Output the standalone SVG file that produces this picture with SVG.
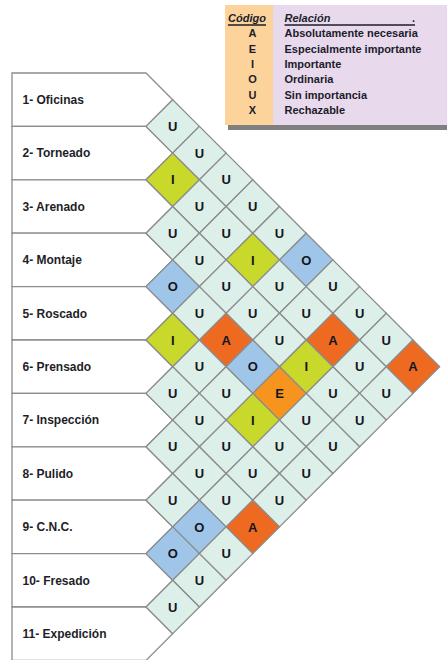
<svg xmlns="http://www.w3.org/2000/svg" xmlns:xlink="http://www.w3.org/1999/xlink" width="447" height="660" viewBox="0 0 447 660">
<style>
.box{fill:#ffffff;stroke:#8c8c8c;stroke-width:1.3}
.lbl{font-family:"Liberation Sans",Arial,sans-serif;font-weight:bold;font-size:12px;fill:#1e1e28}
.cell{stroke:#8c8c8c;stroke-width:1.3}
.U{fill:#dcefe9}.I{fill:#c8d92b}.O{fill:#9fc6e8}.A{fill:#ef6a21}.E{fill:#f7941e}
.ct{font-family:"Liberation Sans",Arial,sans-serif;font-weight:bold;font-size:13px;fill:#15151f;text-anchor:middle}
.lg{font-family:"Liberation Sans",Arial,sans-serif;font-weight:bold;font-size:11px;fill:#1c1c2a}
.lc{text-anchor:middle}
.it{font-style:italic}
</style>
<defs>
<path id="dm" d="M0,-26.7 L26.7,0 L0,26.7 L-26.7,0 Z"/>
</defs>
<rect width="447" height="660" fill="#ffffff"/>

<g id="legend">
<rect x="228" y="124" width="219" height="6" fill="#808080"/>
<rect x="225" y="5" width="48" height="120" fill="#fdd39c"/>
<rect x="273" y="5" width="174" height="120" fill="#e8d9ed"/>
<text class="lg it" x="228" y="22">Código</text>
<line x1="228" y1="25" x2="266" y2="25" stroke="#1c1c2a" stroke-width="1.4"/>
<text class="lg it" x="284.5" y="22">Relación</text>
<line x1="284.5" y1="25" x2="415" y2="25" stroke="#1c1c2a" stroke-width="1.6"/>
<text class="lg" x="412" y="22">.</text>
<text class="lg lc" x="252.5" y="37.3">A</text>
<text class="lg lc" x="252.5" y="52.6">E</text>
<text class="lg lc" x="252.5" y="68">I</text>
<text class="lg lc" x="252.5" y="83.3">O</text>
<text class="lg lc" x="252.5" y="98.6">U</text>
<text class="lg lc" x="252.5" y="114">X</text>
<text class="lg" x="284.5" y="37.3">Absolutamente necesaria</text>
<text class="lg" x="284.5" y="52.6">Especialmente importante</text>
<text class="lg" x="284.5" y="68">Importante</text>
<text class="lg" x="284.5" y="83.3">Ordinaria</text>
<text class="lg" x="284.5" y="98.6">Sin importancia</text>
<text class="lg" x="284.5" y="114">Rechazable</text>
</g>

<g id="dept1"><path class="box" d="M12,73 H146 L172.7,99.7 L146,126.4 H12 Z"/><text class="lbl" x="22.5" y="104">1- Oficinas</text></g>
<g id="dept2"><path class="box" d="M12,126.4 H146 L172.7,153.1 L146,179.8 H12 Z"/><text class="lbl" x="22.5" y="157.4">2- Torneado</text></g>
<g id="dept3"><path class="box" d="M12,179.8 H146 L172.7,206.5 L146,233.2 H12 Z"/><text class="lbl" x="22.5" y="210.8">3- Arenado</text></g>
<g id="dept4"><path class="box" d="M12,233.2 H146 L172.7,259.9 L146,286.6 H12 Z"/><text class="lbl" x="22.5" y="264.2">4- Montaje</text></g>
<g id="dept5"><path class="box" d="M12,286.6 H146 L172.7,313.3 L146,340 H12 Z"/><text class="lbl" x="22.5" y="317.6">5- Roscado</text></g>
<g id="dept6"><path class="box" d="M12,340 H146 L172.7,366.7 L146,393.4 H12 Z"/><text class="lbl" x="22.5" y="371">6- Prensado</text></g>
<g id="dept7"><path class="box" d="M12,393.4 H146 L172.7,420.1 L146,446.8 H12 Z"/><text class="lbl" x="22.5" y="424.4">7- Inspección</text></g>
<g id="dept8"><path class="box" d="M12,446.8 H146 L172.7,473.5 L146,500.2 H12 Z"/><text class="lbl" x="22.5" y="477.8">8- Pulido</text></g>
<g id="dept9"><path class="box" d="M12,500.2 H146 L172.7,526.9 L146,553.6 H12 Z"/><text class="lbl" x="22.5" y="531.2">9- C.N.C.</text></g>
<g id="dept10"><path class="box" d="M12,553.6 H146 L172.7,580.3 L146,607 H12 Z"/><text class="lbl" x="22.5" y="584.6">10- Fresado</text></g>
<g id="dept11"><path class="box" d="M12,607 H146 L172.7,633.7 L146,660.4 H12 Z"/><text class="lbl" x="22.5" y="638">11- Expedición</text></g>

<g id="connectors"></g>

<g id="matrix">
<g id="c1-2"><use xlink:href="#dm" href="#dm" class="cell U" x="172.7" y="126.4"/><text class="ct" x="172.7" y="131">U</text></g>
<g id="c1-3"><use xlink:href="#dm" href="#dm" class="cell U" x="199.4" y="153.1"/><text class="ct" x="199.4" y="157.7">U</text></g>
<g id="c2-3"><use xlink:href="#dm" href="#dm" class="cell I" x="172.7" y="179.8"/><text class="ct" x="172.7" y="184.4">I</text></g>
<g id="c1-4"><use xlink:href="#dm" href="#dm" class="cell U" x="226.1" y="179.8"/><text class="ct" x="226.1" y="184.4">U</text></g>
<g id="c2-4"><use xlink:href="#dm" href="#dm" class="cell U" x="199.4" y="206.5"/><text class="ct" x="199.4" y="211.1">U</text></g>
<g id="c1-5"><use xlink:href="#dm" href="#dm" class="cell U" x="252.8" y="206.5"/><text class="ct" x="252.8" y="211.1">U</text></g>
<g id="c3-4"><use xlink:href="#dm" href="#dm" class="cell U" x="172.7" y="233.2"/><text class="ct" x="172.7" y="237.8">U</text></g>
<g id="c2-5"><use xlink:href="#dm" href="#dm" class="cell U" x="226.1" y="233.2"/><text class="ct" x="226.1" y="237.8">U</text></g>
<g id="c1-6"><use xlink:href="#dm" href="#dm" class="cell U" x="279.5" y="233.2"/><text class="ct" x="279.5" y="237.8">U</text></g>
<g id="c3-5"><use xlink:href="#dm" href="#dm" class="cell U" x="199.4" y="259.9"/><text class="ct" x="199.4" y="264.5">U</text></g>
<g id="c2-6"><use xlink:href="#dm" href="#dm" class="cell I" x="252.8" y="259.9"/><text class="ct" x="252.8" y="264.5">I</text></g>
<g id="c1-7"><use xlink:href="#dm" href="#dm" class="cell O" x="306.2" y="259.9"/><text class="ct" x="306.2" y="264.5">O</text></g>
<g id="c4-5"><use xlink:href="#dm" href="#dm" class="cell O" x="172.7" y="286.6"/><text class="ct" x="172.7" y="291.2">O</text></g>
<g id="c3-6"><use xlink:href="#dm" href="#dm" class="cell U" x="226.1" y="286.6"/><text class="ct" x="226.1" y="291.2">U</text></g>
<g id="c2-7"><use xlink:href="#dm" href="#dm" class="cell U" x="279.5" y="286.6"/><text class="ct" x="279.5" y="291.2">U</text></g>
<g id="c1-8"><use xlink:href="#dm" href="#dm" class="cell U" x="332.9" y="286.6"/><text class="ct" x="332.9" y="291.2">U</text></g>
<g id="c4-6"><use xlink:href="#dm" href="#dm" class="cell U" x="199.4" y="313.3"/><text class="ct" x="199.4" y="317.9">U</text></g>
<g id="c3-7"><use xlink:href="#dm" href="#dm" class="cell U" x="252.8" y="313.3"/><text class="ct" x="252.8" y="317.9">U</text></g>
<g id="c2-8"><use xlink:href="#dm" href="#dm" class="cell U" x="306.2" y="313.3"/><text class="ct" x="306.2" y="317.9">U</text></g>
<g id="c1-9"><use xlink:href="#dm" href="#dm" class="cell U" x="359.6" y="313.3"/><text class="ct" x="359.6" y="317.9">U</text></g>
<g id="c5-6"><use xlink:href="#dm" href="#dm" class="cell I" x="172.7" y="340"/><text class="ct" x="172.7" y="344.6">I</text></g>
<g id="c4-7"><use xlink:href="#dm" href="#dm" class="cell A" x="226.1" y="340"/><text class="ct" x="226.1" y="344.6">A</text></g>
<g id="c3-8"><use xlink:href="#dm" href="#dm" class="cell U" x="279.5" y="340"/><text class="ct" x="279.5" y="344.6">U</text></g>
<g id="c2-9"><use xlink:href="#dm" href="#dm" class="cell A" x="332.9" y="340"/><text class="ct" x="332.9" y="344.6">A</text></g>
<g id="c1-10"><use xlink:href="#dm" href="#dm" class="cell U" x="386.3" y="340"/><text class="ct" x="386.3" y="344.6">U</text></g>
<g id="c5-7"><use xlink:href="#dm" href="#dm" class="cell U" x="199.4" y="366.7"/><text class="ct" x="199.4" y="371.3">U</text></g>
<g id="c4-8"><use xlink:href="#dm" href="#dm" class="cell O" x="252.8" y="366.7"/><text class="ct" x="252.8" y="371.3">O</text></g>
<g id="c3-9"><use xlink:href="#dm" href="#dm" class="cell I" x="306.2" y="366.7"/><text class="ct" x="306.2" y="371.3">I</text></g>
<g id="c2-10"><use xlink:href="#dm" href="#dm" class="cell U" x="359.6" y="366.7"/><text class="ct" x="359.6" y="371.3">U</text></g>
<g id="c1-11"><use xlink:href="#dm" href="#dm" class="cell A" x="413" y="366.7"/><text class="ct" x="413" y="371.3">A</text></g>
<g id="c6-7"><use xlink:href="#dm" href="#dm" class="cell U" x="172.7" y="393.4"/><text class="ct" x="172.7" y="398">U</text></g>
<g id="c5-8"><use xlink:href="#dm" href="#dm" class="cell U" x="226.1" y="393.4"/><text class="ct" x="226.1" y="398">U</text></g>
<g id="c4-9"><use xlink:href="#dm" href="#dm" class="cell E" x="279.5" y="393.4"/><text class="ct" x="279.5" y="398">E</text></g>
<g id="c3-10"><use xlink:href="#dm" href="#dm" class="cell U" x="332.9" y="393.4"/><text class="ct" x="332.9" y="398">U</text></g>
<g id="c2-11"><use xlink:href="#dm" href="#dm" class="cell U" x="386.3" y="393.4"/><text class="ct" x="386.3" y="398">U</text></g>
<g id="c6-8"><use xlink:href="#dm" href="#dm" class="cell U" x="199.4" y="420.1"/><text class="ct" x="199.4" y="424.7">U</text></g>
<g id="c5-9"><use xlink:href="#dm" href="#dm" class="cell I" x="252.8" y="420.1"/><text class="ct" x="252.8" y="424.7">I</text></g>
<g id="c4-10"><use xlink:href="#dm" href="#dm" class="cell U" x="306.2" y="420.1"/><text class="ct" x="306.2" y="424.7">U</text></g>
<g id="c3-11"><use xlink:href="#dm" href="#dm" class="cell U" x="359.6" y="420.1"/><text class="ct" x="359.6" y="424.7">U</text></g>
<g id="c7-8"><use xlink:href="#dm" href="#dm" class="cell U" x="172.7" y="446.8"/><text class="ct" x="172.7" y="451.4">U</text></g>
<g id="c6-9"><use xlink:href="#dm" href="#dm" class="cell U" x="226.1" y="446.8"/><text class="ct" x="226.1" y="451.4">U</text></g>
<g id="c5-10"><use xlink:href="#dm" href="#dm" class="cell U" x="279.5" y="446.8"/><text class="ct" x="279.5" y="451.4">U</text></g>
<g id="c4-11"><use xlink:href="#dm" href="#dm" class="cell U" x="332.9" y="446.8"/><text class="ct" x="332.9" y="451.4">U</text></g>
<g id="c7-9"><use xlink:href="#dm" href="#dm" class="cell U" x="199.4" y="473.5"/><text class="ct" x="199.4" y="478.1">U</text></g>
<g id="c6-10"><use xlink:href="#dm" href="#dm" class="cell U" x="252.8" y="473.5"/><text class="ct" x="252.8" y="478.1">U</text></g>
<g id="c5-11"><use xlink:href="#dm" href="#dm" class="cell U" x="306.2" y="473.5"/><text class="ct" x="306.2" y="478.1">U</text></g>
<g id="c8-9"><use xlink:href="#dm" href="#dm" class="cell U" x="172.7" y="500.2"/><text class="ct" x="172.7" y="504.8">U</text></g>
<g id="c7-10"><use xlink:href="#dm" href="#dm" class="cell U" x="226.1" y="500.2"/><text class="ct" x="226.1" y="504.8">U</text></g>
<g id="c6-11"><use xlink:href="#dm" href="#dm" class="cell U" x="279.5" y="500.2"/><text class="ct" x="279.5" y="504.8">U</text></g>
<g id="c8-10"><use xlink:href="#dm" href="#dm" class="cell O" x="199.4" y="526.9"/><text class="ct" x="199.4" y="531.5">O</text></g>
<g id="c7-11"><use xlink:href="#dm" href="#dm" class="cell A" x="252.8" y="526.9"/><text class="ct" x="252.8" y="531.5">A</text></g>
<g id="c9-10"><use xlink:href="#dm" href="#dm" class="cell O" x="172.7" y="553.6"/><text class="ct" x="172.7" y="558.2">O</text></g>
<g id="c8-11"><use xlink:href="#dm" href="#dm" class="cell U" x="226.1" y="553.6"/><text class="ct" x="226.1" y="558.2">U</text></g>
<g id="c9-11"><use xlink:href="#dm" href="#dm" class="cell U" x="199.4" y="580.3"/><text class="ct" x="199.4" y="584.9">U</text></g>
<g id="c10-11"><use xlink:href="#dm" href="#dm" class="cell U" x="172.7" y="607"/><text class="ct" x="172.7" y="611.6">U</text></g>
</g>
</svg>
